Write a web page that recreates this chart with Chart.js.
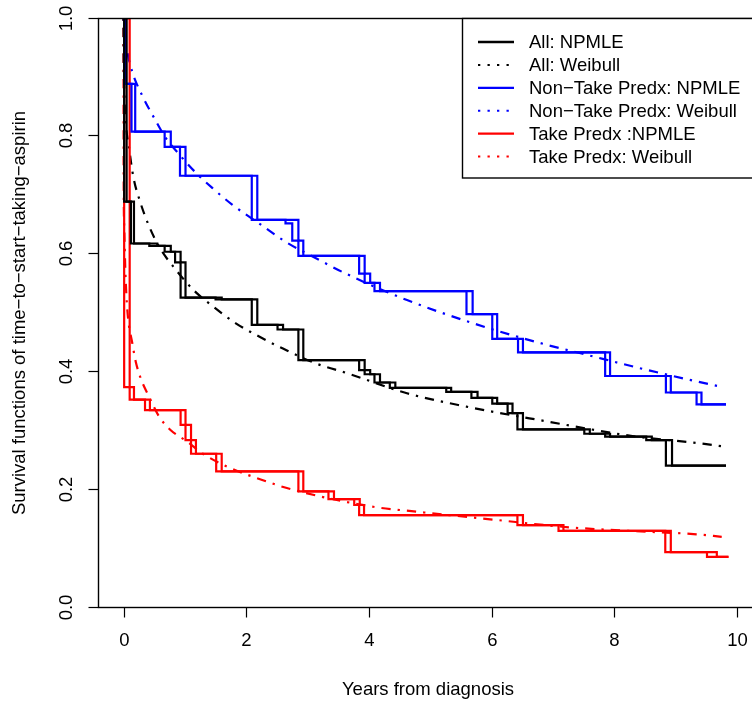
<!DOCTYPE html>
<html>
<head>
<meta charset="utf-8">
<script src="https://cdn.jsdelivr.net/npm/chart.js@4.4.1/dist/chart.umd.min.js"></script>
<style>
    html, body { margin: 0; padding: 0; background: #fff; }
    #wrap { width: 752px; height: 704px; overflow: hidden; }
    canvas { display: block; }
</style>
</head>
<body>
<div id="wrap"><canvas id="survChart" width="780" height="704"></canvas></div>
<script>
// NPMLE step curves: each drop has a left end (L) and right end (R) of its interval
const allLevels = [0.689, 0.618, 0.614, 0.604, 0.586, 0.526, 0.523, 0.480, 0.472, 0.420, 0.403, 0.396, 0.382, 0.373, 0.366, 0.356, 0.346, 0.330, 0.3025, 0.295, 0.290, 0.284, 0.241];
const allL = [0.01, 0.12, 0.42, 0.67, 0.84, 0.93, 1.50, 2.09, 2.51, 2.85, 3.84, 3.93, 4.09, 4.34, 5.26, 5.67, 6.01, 6.26, 6.42, 7.51, 7.85, 8.52, 8.84];
const allR = [0.05, 0.17, 0.55, 0.77, 0.93, 1.01, 1.60, 2.18, 2.60, 2.93, 3.93, 4.02, 4.18, 4.43, 5.34, 5.77, 6.09, 6.34, 6.51, 7.60, 7.93, 8.61, 8.94];
const allEnd = 9.82;

const nonTakeLevels = [0.889, 0.808, 0.782, 0.733, 0.658, 0.652, 0.623, 0.597, 0.567, 0.551, 0.537, 0.498, 0.456, 0.433, 0.393, 0.365, 0.345];
const nonTakeL = [0.01, 0.13, 0.67, 0.92, 2.09, 2.64, 2.75, 2.85, 3.84, 3.93, 4.09, 5.59, 6.01, 6.43, 7.85, 8.84, 9.34];
const nonTakeR = [0.04, 0.19, 0.77, 1.01, 2.18, 2.85, 2.85, 2.93, 3.93, 4.02, 4.18, 5.69, 6.09, 6.51, 7.93, 8.92, 9.42];
const nonTakeEnd = 9.82;

const takeLevels = [0.374, 0.353, 0.335, 0.310, 0.284, 0.261, 0.231, 0.197, 0.184, 0.174, 0.157, 0.140, 0.130, 0.094, 0.086];
const takeL = [0.01, 0.10, 0.35, 0.93, 1.01, 1.10, 1.51, 2.85, 3.34, 3.76, 3.84, 6.42, 7.09, 8.83, 9.51];
const takeR = [0.10, 0.17, 0.43, 1.01, 1.10, 1.18, 1.60, 2.93, 3.43, 3.85, 3.92, 6.51, 7.17, 8.92, 9.67];
const takeEnd = 9.86;

// Weibull fits
const allWeibullT = [0, 0.003, 0.01, 0.024, 0.095, 0.16, 0.27, 0.42, 0.595, 0.856, 1.14, 1.46, 1.83, 2.21, 2.59, 3.13, 3.65, 4.62, 5.59, 6.79, 8.37, 9.29, 9.80];
const allWeibullS = [1.0, 0.93, 0.89, 0.845, 0.777, 0.731, 0.689, 0.6465, 0.61, 0.573, 0.539, 0.511, 0.4825, 0.46, 0.44, 0.4146, 0.3976, 0.3637, 0.341, 0.318, 0.290, 0.280, 0.273];

const nonTakeWeibullT = [0, 0.01, 0.06, 0.14, 0.31, 0.50, 0.69, 0.91, 1.18, 1.45, 1.77, 2.21, 2.64, 3.19, 3.62, 4.62, 5.70, 6.79, 7.55, 8.31, 9.12, 9.77];
const nonTakeWeibullS = [1.0, 0.978, 0.944, 0.910, 0.868, 0.831, 0.797, 0.769, 0.738, 0.712, 0.684, 0.652, 0.621, 0.590, 0.567, 0.522, 0.4825, 0.449, 0.429, 0.409, 0.389, 0.374];

const takeWeibullT = [0, 0.002, 0.01, 0.03, 0.062, 0.143, 0.20, 0.28, 0.416, 0.58, 0.77, 1.04, 1.28, 1.69, 2.26, 2.69, 4.07, 4.78, 6.08, 7.28, 8.26, 9.34, 9.75];
const takeWeibullS = [1.0, 0.74, 0.65, 0.57, 0.505, 0.4486, 0.417, 0.389, 0.358, 0.324, 0.301, 0.2815, 0.262, 0.239, 0.2165, 0.202, 0.171, 0.1627, 0.1486, 0.136, 0.130, 0.1243, 0.120];

const xTicks = [0, 2, 4, 6, 8, 10];
const yTicks = [0, 0.2, 0.4, 0.6, 0.8, 1.0];

const legendLabels = ['All: NPMLE', 'All: Weibull', 'Non\u2212Take Predx: NPMLE', 'Non\u2212Take Predx: Weibull', 'Take Predx :NPMLE', 'Take Predx: Weibull'];
const legendColors = ['#000000', '#000000', '#0000ff', '#0000ff', '#ff0000', '#ff0000'];

const FONT = '18.5px "Liberation Sans", Arial, sans-serif';
const DASH_DOT = [2.3, 7, 9.3, 7];

function stepPoints(times, levels, end) {
    const pts = [{ x: 0, y: 1 }];
    times.forEach((t, i) => pts.push({ x: t, y: levels[i] }));
    pts.push({ x: end, y: levels[levels.length - 1] });
    return pts;
}

function curvePoints(ts, ss) {
    return ts.map((t, i) => ({ x: t, y: ss[i] }));
}

function stepSet(data, color) {
    return { data, borderColor: color, borderWidth: 2.2, showLine: true, stepped: 'before', pointRadius: 0, fill: false };
}

function weibullSet(data, color) {
    return { data, borderColor: color, borderWidth: 2.2, borderDash: DASH_DOT, showLine: true, cubicInterpolationMode: 'monotone', pointRadius: 0, fill: false };
}

// box, axes, titles and legend drawn R-style on top of the plot
const rStyle = {
    id: 'rStyle',
    afterDraw(chart) {
        const { ctx, chartArea: a, scales: { x, y } } = chart;
        const left = Math.round(a.left) - 0.5;
        const top = Math.round(a.top) - 0.5;
        const bottom = Math.round(a.bottom) - 0.5;
        ctx.save();
        ctx.strokeStyle = '#000';
        ctx.fillStyle = '#000';
        ctx.lineWidth = 1.4;
        ctx.setLineDash([]);
        ctx.strokeRect(left, top, a.right - left, bottom - top);

        ctx.lineWidth = 1.2;
        ctx.font = FONT;
        ctx.textAlign = 'center';
        ctx.textBaseline = 'middle';

        xTicks.forEach(v => {
            const px = Math.round(x.getPixelForValue(v)) + 0.5;
            ctx.beginPath();
            ctx.moveTo(px, bottom);
            ctx.lineTo(px, bottom + 10);
            ctx.stroke();
            ctx.fillText(String(v), px, bottom + 33);
        });

        yTicks.forEach(v => {
            const py = Math.round(y.getPixelForValue(v)) - 0.5;
            ctx.beginPath();
            ctx.moveTo(left, py);
            ctx.lineTo(left - 10, py);
            ctx.stroke();
            ctx.save();
            ctx.translate(left - 32, py);
            ctx.rotate(-Math.PI / 2);
            ctx.fillText(v.toFixed(1), 0, 0);
            ctx.restore();
        });

        ctx.fillText('Years from diagnosis', 428, 690);
        ctx.save();
        ctx.translate(20, (a.top + a.bottom) / 2);
        ctx.rotate(-Math.PI / 2);
        ctx.fillText('Survival functions of time\u2212to\u2212start\u2212taking\u2212aspirin', 0, 0);
        ctx.restore();

        // legend
        const lx = 462.5, ly = top, lw = a.right - lx, lh = 178 - top;
        ctx.fillStyle = '#fff';
        ctx.fillRect(lx, ly, lw, lh);
        ctx.strokeStyle = '#000';
        ctx.lineWidth = 1.4;
        ctx.strokeRect(lx, ly, lw, lh);
        ctx.textAlign = 'left';
        legendLabels.forEach((label, i) => {
            const ry = 42 + i * 22.9;
            ctx.strokeStyle = legendColors[i];
            ctx.lineWidth = i % 2 === 0 ? 2.3 : 2;
            ctx.setLineDash(i % 2 === 0 ? [] : [2.3, 7.2]);
            ctx.beginPath();
            ctx.moveTo(478, ry);
            ctx.lineTo(514, ry);
            ctx.stroke();
            ctx.setLineDash([]);
            ctx.fillStyle = '#000';
            ctx.fillText(label, 529, ry + 1);
        });
        ctx.restore();
    }
};

const ctx = document.getElementById('survChart').getContext('2d');

const chart = new Chart(ctx, {
    type: 'scatter',
    data: {
        datasets: [
            stepSet(stepPoints(allL, allLevels, allEnd), '#000000'),
            stepSet(stepPoints(allR, allLevels, allEnd), '#000000'),
            stepSet(stepPoints(nonTakeL, nonTakeLevels, nonTakeEnd), '#0000ff'),
            stepSet(stepPoints(nonTakeR, nonTakeLevels, nonTakeEnd), '#0000ff'),
            stepSet(stepPoints(takeL, takeLevels, takeEnd), '#ff0000'),
            stepSet(stepPoints(takeR, takeLevels, takeEnd), '#ff0000'),
            weibullSet(curvePoints(allWeibullT, allWeibullS), '#000000'),
            weibullSet(curvePoints(nonTakeWeibullT, nonTakeWeibullS), '#0000ff'),
            weibullSet(curvePoints(takeWeibullT, takeWeibullS), '#ff0000')
        ]
    },
    options: {
        responsive: false,
        animation: false,
        devicePixelRatio: 1,
        layout: { padding: { left: 99, right: 18.4, top: 18.5, bottom: 96.5 } },
        plugins: { legend: { display: false }, tooltip: { enabled: false } },
        scales: {
            x: { type: 'linear', min: -0.4, max: 10.4, display: false },
            y: { type: 'linear', min: 0, max: 1, display: false }
        }
    },
    plugins: [rStyle]
});
</script>
</body>
</html>
